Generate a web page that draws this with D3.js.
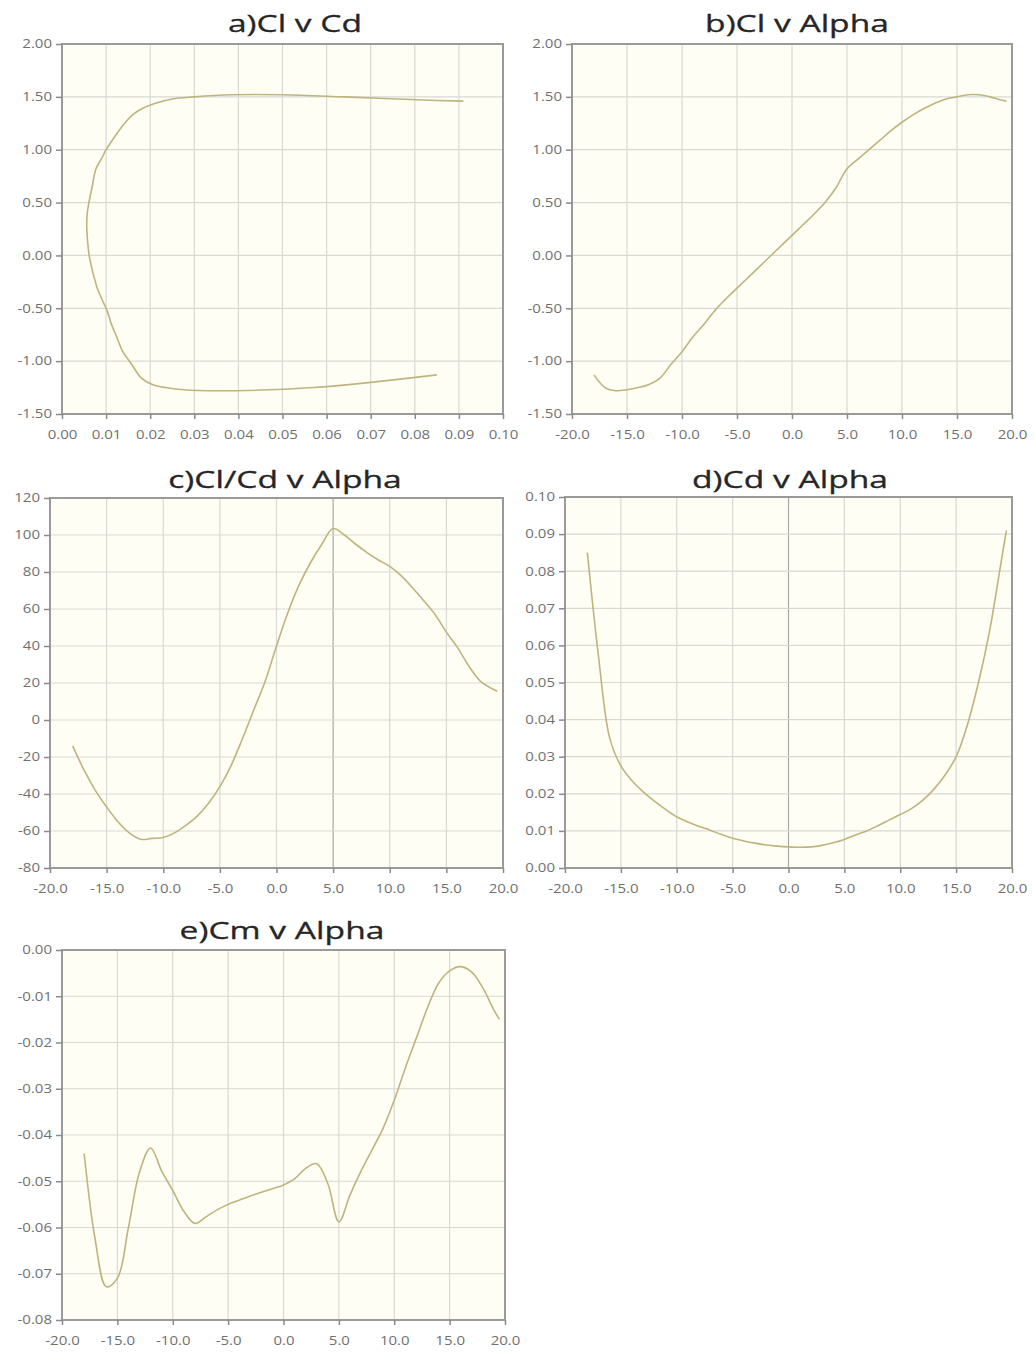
<!DOCTYPE html>
<html>
<head>
<meta charset="utf-8">
<script src="https://cdn.jsdelivr.net/npm/d3@7"></script>
<style>
  html, body { margin: 0; padding: 0; background: #ffffff; }
  svg { display: block; }
</style>
</head>
<body>
<svg id="chart" width="1035" height="1352"></svg>
<script>
// ---------- data ----------
const alpha = [-18,-17,-16,-15,-14,-13,-12,-11,-10,-9,-8,-7,-6,-5,-4,-3,-2,-1,0,1,2,3,4,5,6,7,8,9,10,11,12,13,14,15,16,17,18,19,19.5];
const cl = [-1.13,-1.25,-1.28,-1.27,-1.25,-1.22,-1.16,-1.03,-0.91,-0.77,-0.65,-0.52,-0.41,-0.31,-0.21,-0.11,-0.01,0.09,0.19,0.29,0.39,0.50,0.64,0.82,0.91,1.00,1.09,1.18,1.26,1.33,1.39,1.44,1.48,1.50,1.52,1.52,1.50,1.47,1.46];
const cd = [0.0850,0.0570,0.0350,0.0275,0.0235,0.0205,0.0180,0.0158,0.0138,0.0124,0.0112,0.0102,0.0090,0.0080,0.0073,0.0067,0.0062,0.0059,0.0057,0.0056,0.0057,0.0061,0.0068,0.0077,0.0089,0.0100,0.0114,0.0129,0.0144,0.0160,0.0182,0.0212,0.0250,0.0300,0.0385,0.0500,0.0640,0.0820,0.0910];
const clcd = [-14,-27,-38,-47,-55,-61,-64.5,-64,-63.5,-61,-57,-52,-45,-36,-24.5,-10,5.5,21,40,58,73,85,95,103.5,100,95,90.5,86.5,83,78,71.5,64.5,57,47.5,39,29,21,17,15.5];
const cm = [-0.0440,-0.0627,-0.0728,-0.0710,-0.0600,-0.0480,-0.0428,-0.0478,-0.0520,-0.0565,-0.0591,-0.0577,-0.0562,-0.0550,-0.0541,-0.0532,-0.0524,-0.0516,-0.0508,-0.0495,-0.0472,-0.0462,-0.0505,-0.0588,-0.0530,-0.0478,-0.0432,-0.0385,-0.0325,-0.0255,-0.0190,-0.0125,-0.0072,-0.0045,-0.0036,-0.0048,-0.0082,-0.0130,-0.0150];

const titles = ["a)Cl v Cd", "b)Cl v Alpha", "c)Cl/Cd v Alpha", "d)Cd v Alpha", "e)Cm v Alpha"];
const cdTicks = [0,0.01,0.02,0.03,0.04,0.05,0.06,0.07,0.08,0.09,0.10];
const alphaTicks = [-20,-15,-10,-5,0,5,10,15,20];
const clTicks = [-1.5,-1,-0.5,0,0.5,1,1.5,2];
const clcdTicks = [-80,-60,-40,-20,0,20,40,60,80,100,120];
const cdAlphaTicks = [0,0.01,0.02,0.03,0.04,0.05,0.06,0.07,0.08,0.09,0.10];
const cmTicks = [-0.08,-0.07,-0.06,-0.05,-0.04,-0.03,-0.02,-0.01,0];

// ---------- layout ----------
const f2 = v => v.toFixed(2);
const f1 = v => v.toFixed(1);
const f0 = v => v.toFixed(0);

const panels = [
  { title: titles[0], titleX: 295, titleY: 32, x0: 62, x1: 503, y0: 44, y1: 414,
    xs: cd, ys: cl, xTicks: cdTicks, yTicks: clTicks, xFmt: f2, yFmt: f2, hiX: null },
  { title: titles[1], titleX: 797, titleY: 32, x0: 572, x1: 1012, y0: 44, y1: 414,
    xs: alpha, ys: cl, xTicks: alphaTicks, yTicks: clTicks, xFmt: f1, yFmt: f2, hiX: null },
  { title: titles[2], titleX: 285, titleY: 488, x0: 50, x1: 503, y0: 498, y1: 868,
    xs: alpha, ys: clcd, xTicks: alphaTicks, yTicks: clcdTicks, xFmt: f1, yFmt: f0, hiX: 5 },
  { title: titles[3], titleX: 790, titleY: 488, x0: 565, x1: 1012, y0: 497, y1: 868,
    xs: alpha, ys: cd, xTicks: alphaTicks, yTicks: cdAlphaTicks, xFmt: f1, yFmt: f2, hiX: 0 },
  { title: titles[4], titleX: 282, titleY: 939, x0: 62, x1: 505, y0: 950, y1: 1320,
    xs: alpha, ys: cm, xTicks: alphaTicks, yTicks: cmTicks, xFmt: f1, yFmt: f2, hiX: null }
];

const svg = d3.select("#chart");
const FONT = "'Open Sans', 'DejaVu Sans', sans-serif";

panels.forEach(p => {
  const x = d3.scaleLinear().domain(d3.extent(p.xTicks)).range([p.x0, p.x1]);
  const y = d3.scaleLinear().domain(d3.extent(p.yTicks)).range([p.y1, p.y0]);
  const g = svg.append("g");

  // title (glyphs widened like the reference)
  g.append("text")
    .attr("transform", `translate(${p.titleX},${p.titleY}) scale(1.4,1)`)
    .attr("text-anchor", "middle")
    .attr("font-family", FONT).attr("font-size", 24)
    .attr("fill", "#262626")
    .attr("stroke", "#262626").attr("stroke-width", 0.3)
    .text(p.title);

  // background
  g.append("rect")
    .attr("x", p.x0).attr("y", p.y0)
    .attr("width", p.x1 - p.x0).attr("height", p.y1 - p.y0)
    .attr("fill", "#fffef4");

  // grid
  g.append("g").selectAll("line").data(p.xTicks).join("line")
    .attr("x1", d => x(d)).attr("x2", d => x(d))
    .attr("y1", p.y0).attr("y2", p.y1)
    .attr("stroke", d => d === p.hiX ? "#a8a8a8" : "#d9d9d4")
    .attr("stroke-width", 1.2);
  g.append("g").selectAll("line").data(p.yTicks).join("line")
    .attr("y1", d => y(d)).attr("y2", d => y(d))
    .attr("x1", p.x0).attr("x2", p.x1)
    .attr("stroke", "#d9d9d4")
    .attr("stroke-width", 1.2);

  // series line
  const pts = p.xs.map((v, i) => [v, p.ys[i]]);
  g.append("path")
    .datum(pts)
    .attr("fill", "none")
    .attr("stroke", "#bdb47e")
    .attr("stroke-width", 1.6)
    .attr("d", d3.line().x(d => x(d[0])).y(d => y(d[1])).curve(d3.curveCatmullRom.alpha(0.5)));

  // frame
  g.append("rect")
    .attr("x", p.x0).attr("y", p.y0)
    .attr("width", p.x1 - p.x0).attr("height", p.y1 - p.y0)
    .attr("fill", "none").attr("stroke", "#9a9a9a").attr("stroke-width", 2);

  // axes
  const xAxis = d3.axisBottom(x).tickValues(p.xTicks).tickFormat(p.xFmt).tickSize(5).tickPadding(11);
  const yAxis = d3.axisLeft(y).tickValues(p.yTicks).tickFormat(p.yFmt).tickSize(6).tickPadding(2);
  const gx = g.append("g").attr("transform", `translate(0,${p.y1})`).call(xAxis);
  const gy = g.append("g").attr("transform", `translate(${p.x0},0)`).call(yAxis);
  [gx, gy].forEach(a => {
    a.select(".domain").remove();
    a.selectAll(".tick line").attr("stroke", "#8a8a8a").attr("stroke-width", 1.5);
    a.selectAll(".tick text")
      .attr("fill", "#707070").attr("font-family", FONT).attr("font-size", 12)
      .attr("transform", "scale(1.25,1)");
  });
});
</script>
</body>
</html>
